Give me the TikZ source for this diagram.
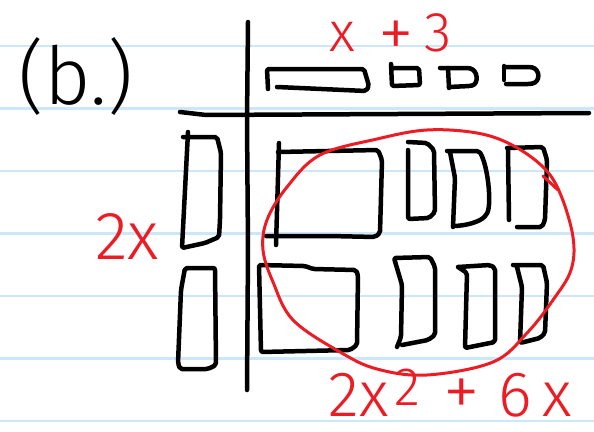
\documentclass[tikz,border=0pt]{standalone}
\usepackage{fontspec}
\setmainfont{Fira Sans Light}
\definecolor{penred}{RGB}{236,28,36}
\definecolor{ruleblue}{RGB}{204,230,250}
\tikzset{
  pen/.style={line width=4.5pt, line cap=round, line join=round, rounded corners=2pt},
  redpen/.style={penred, line width=3pt, line cap=round, line join=round},
  ruling/.style={ruleblue, line width=2.5pt},
}
\begin{document}
\begin{tikzpicture}[x=1pt,y=-1pt]
\fill[white] (0,0) rectangle (594,431);
\useasboundingbox (0,0) rectangle (594,431);
% ruled paper
\foreach \y in {46,108.5,...,430} \draw[ruling] (0,\y) -- (594,\y);
% axes
\draw[pen] (248,22) -- (247,120) -- (248,250) -- (247,390);
\draw[pen] (180,112) -- (206,115) -- (589,113);
% x + 3 along the top
\draw[pen] (268,89) -- (267,69) -- (364,69) -- (369,86) -- (366,91) -- (277,87);
\draw[pen] (391,64) -- (392,86) -- (420,85) -- (419,68) -- (391,68);
\draw[pen] (440,68) -- (468,68) .. controls (478,70) and (479,84) .. (470,86) -- (449,87);
\draw[pen] (448,68) -- (449,88);
\draw[pen] (504,66) -- (504,80);
\draw[pen] (504,67) -- (530,67) .. controls (540,69) and (541,82) .. (530,84) -- (506,84);
% 2x down the side
\draw[pen] (188,132) -- (182,248) -- (205,243) -- (219,237) -- (220,220) -- (221,153) -- (217,137) -- (183,137);
\draw[pen] (185,268) -- (215,268) -- (216,365) -- (208,369) -- (180,369) -- (178,363) -- (181,290) -- cycle;
% first row of products
\draw[pen] (279,143) -- (276,245);
\draw[pen] (278,152) -- (378,150) -- (382,160) -- (380,233) -- (375,237) -- (330,236) -- (266,236);
\draw[pen] (408,142) -- (427,143) -- (434,150) -- (435,212) -- (429,218) -- (408,219) -- (408,150);
\draw[pen] (450,152) -- (455,178) -- (453,227);
\draw[pen] (447,151) -- (479,151) .. controls (488,165) and (492,205) .. (486,215) .. controls (480,222) and (465,226) .. (453,226);
\draw[pen] (508,150) -- (509,220);
\draw[pen] (507,148) -- (543,147) -- (547,160) -- (545,220) -- (542,227) -- (517,227);
% second row of products
\draw[pen] (259,265) -- (305,266) -- (313,269) -- (356,270) -- (358,275) -- (357,345) -- (350,350) -- (261,352) -- cycle;
\draw[pen] (397,347) -- (401,337) -- (402,285) -- (394,258) -- (430,257) -- (435,267) -- (435,335) -- (428,340) -- (402,345);
\draw[pen] (458,267) -- (467,273) -- (465,348) -- (495,342) -- (495,268) -- (490,265) -- (458,267);
\draw[pen] (513,265) -- (543,265) -- (547,283) -- (545,333) -- (540,338) -- (520,343) -- (522,287) -- (517,267);
% red loop
\draw[redpen] plot[smooth cycle, tension=0.6] coordinates {
  (427,130) (477,133) (512,145) (543,167) (560,193) (573,237) (571,270) (553,300)
  (527,333) (493,362) (427,375) (377,369) (340,352) (293,320) (273,282) (263,250)
  (267,220) (287,187) (320,155) (377,139)};
\draw[redpen] (543,176) -- (558,190);
% labels
\node[font=\fontsize{80}{80}\selectfont] (part) at (76,76) {(b.)};
\node[penred, anchor=base, font=\fontsize{56}{56}\selectfont] (width) at (391,51)
  {x\hspace{0.4em}\raisebox{-0.12em}{\fontsize{72}{72}\selectfont +}\hspace{0.2em}3};
\node[penred, anchor=base, font=\fontsize{68}{68}\selectfont] (height) at (127,259) {2x};
\node[penred, anchor=base, font=\fontsize{64}{64}\selectfont] (area) at (450,416)
  {2x\hspace{0.1em}\raisebox{0.16em}{\fontsize{54}{54}\selectfont 2}\hspace{0.35em}{\fontsize{74}{74}\selectfont +}\hspace{0.3em}6\hspace{0.15em}x};
\end{tikzpicture}
\end{document}
